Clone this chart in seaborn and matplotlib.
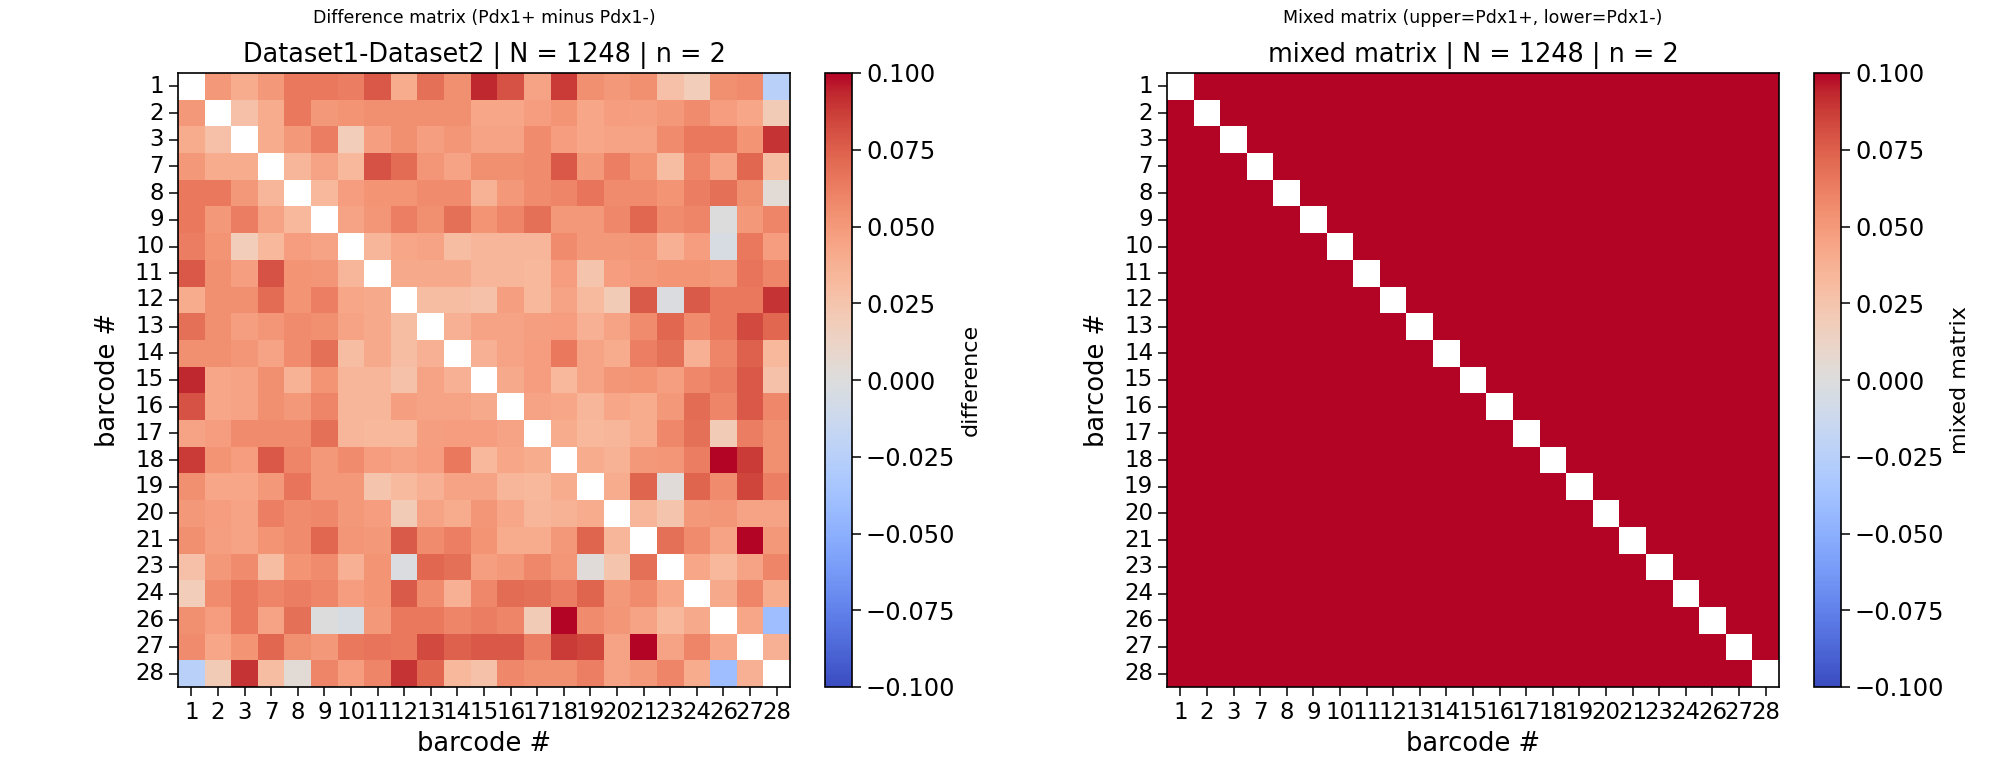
import numpy as np
import pandas as pd
import seaborn as sns
import matplotlib.pyplot as plt

# barcode labels (rows = columns)
barcodes = [1, 2, 3, 7, 8, 9, 10, 11, 12, 13, 14, 15, 16, 17, 18, 19, 20, 21, 23, 24, 26, 27, 28]

# upper triangle of the difference matrix, row by row (values right of the diagonal)
diff_upper = [
    [.050, .040, .050, .065, .065, .063, .078, .040, .068, .055, .093, .080, .045, .088, .055, .050, .055, .028, .018, .055, .057, -.025],
    [.028, .040, .065, .050, .053, .055, .055, .055, .055, .043, .043, .048, .053, .043, .048, .047, .050, .057, .048, .043, .020],
    [.040, .050, .063, .018, .047, .055, .047, .052, .045, .045, .057, .048, .043, .045, .045, .057, .065, .065, .053, .090],
    [.035, .045, .033, .080, .070, .052, .045, .055, .055, .057, .078, .050, .062, .053, .030, .060, .045, .072, .030],
    [.033, .048, .053, .053, .057, .057, .037, .050, .057, .060, .067, .057, .057, .053, .063, .068, .055, .004],
    [.045, .052, .062, .055, .068, .053, .060, .068, .050, .050, .058, .072, .057, .060, .000, .050, .060],
    [.035, .043, .045, .030, .035, .035, .035, .057, .050, .050, .052, .038, .048, -.004, .065, .048],
    [.042, .042, .042, .035, .035, .033, .048, .025, .048, .050, .053, .053, .050, .067, .060],
    [.030, .030, .027, .047, .033, .045, .032, .020, .077, -.002, .077, .065, .065, .090],
    [.038, .045, .045, .047, .048, .038, .045, .057, .072, .057, .065, .083, .072],
    [.038, .045, .048, .065, .045, .040, .062, .068, .038, .060, .075, .033],
    [.042, .048, .033, .045, .052, .053, .047, .058, .063, .078, .027],
    [.045, .043, .035, .043, .040, .050, .070, .060, .078, .058],
    [.040, .033, .035, .040, .058, .068, .020, .063, .055],
    [.040, .037, .050, .052, .063, .105, .088, .055],
    [.040, .073, .003, .073, .057, .085, .062],
    [.035, .025, .050, .052, .045, .045],
    [.068, .057, .045, .105, .050],
    [.043, .033, .045, .060],
    [.042, .060, .040],
    [.043, -.040],
    [.038],
]

# mixed matrix: every off-diagonal cell is saturated at the top of the scale
mixed_level = 0.1

VMIN, VMAX = -0.1, 0.1
CBAR_TICKS = [-0.1, -0.075, -0.05, -0.025, 0.0, 0.025, 0.05, 0.075, 0.1]


def build_symmetric(upper, n):
    m = np.full((n, n), np.nan)
    for i, row in enumerate(upper):
        for k, v in enumerate(row):
            j = i + 1 + k
            m[i, j] = v
            m[j, i] = v
    return m


def draw_panel(fig, mat, rect, cax_rect, suptitle, title, cbar_label):
    ax = fig.add_axes(rect)
    cax = fig.add_axes(cax_rect)
    df = pd.DataFrame(mat, index=barcodes, columns=barcodes)
    sns.heatmap(df, ax=ax, cbar_ax=cax, cmap="coolwarm", vmin=VMIN, vmax=VMAX,
                center=0, cbar_kws={"label": cbar_label, "ticks": CBAR_TICKS})
    # seaborn hides the frame, the reference keeps it
    for s in ax.spines.values():
        s.set_visible(True)
        s.set_linewidth(1.2)
    ax.tick_params(axis="both", labelsize=16.5, length=6.5, width=1.1)
    plt.setp(ax.get_xticklabels(), rotation=0)
    plt.setp(ax.get_yticklabels(), rotation=0)
    ax.set_xlabel("barcode #", fontsize=18.5, labelpad=5)
    ax.set_ylabel("barcode #", fontsize=18.5, labelpad=10)
    ax.set_title(title, fontsize=18.4, pad=8)

    cb = ax.collections[0].colorbar
    cb.outline.set_visible(True)
    cb.outline.set_linewidth(1.2)
    cb.ax.tick_params(labelsize=17.4, length=6.5, width=1.1)
    cb.ax.yaxis.label.set_size(16)
    cb.ax.set_yticklabels([f"{t:.3f}".replace("-", "\u2212") for t in CBAR_TICKS])

    cx = rect[0] + rect[2] / 2
    fig.text(cx, 1 - 18 / 776, suptitle, ha="center", va="center", fontsize=12.5)
    return ax


if __name__ == "__main__":
    n = len(barcodes)
    diff = build_symmetric(diff_upper, n)

    mixed = np.full((n, n), mixed_level)
    np.fill_diagonal(mixed, np.nan)

    W, H = 1990, 776
    fig = plt.figure(figsize=(W / 100, H / 100), dpi=100)

    draw_panel(fig, diff,
               [178 / W, 1 - 687 / H, 612 / W, 614 / H],
               [825 / W, 1 - 687 / H, 27 / W, 614 / H],
               "Difference matrix (Pdx1+ minus Pdx1-)",
               "Dataset1-Dataset2 | N = 1248 | n = 2",
               "difference")
    draw_panel(fig, mixed,
               [1167 / W, 1 - 687 / H, 612 / W, 614 / H],
               [1814 / W, 1 - 687 / H, 27 / W, 614 / H],
               "Mixed matrix (upper=Pdx1+, lower=Pdx1-)",
               "mixed matrix | N = 1248 | n = 2",
               "mixed matrix")

    fig.savefig("out.png", dpi=100)
